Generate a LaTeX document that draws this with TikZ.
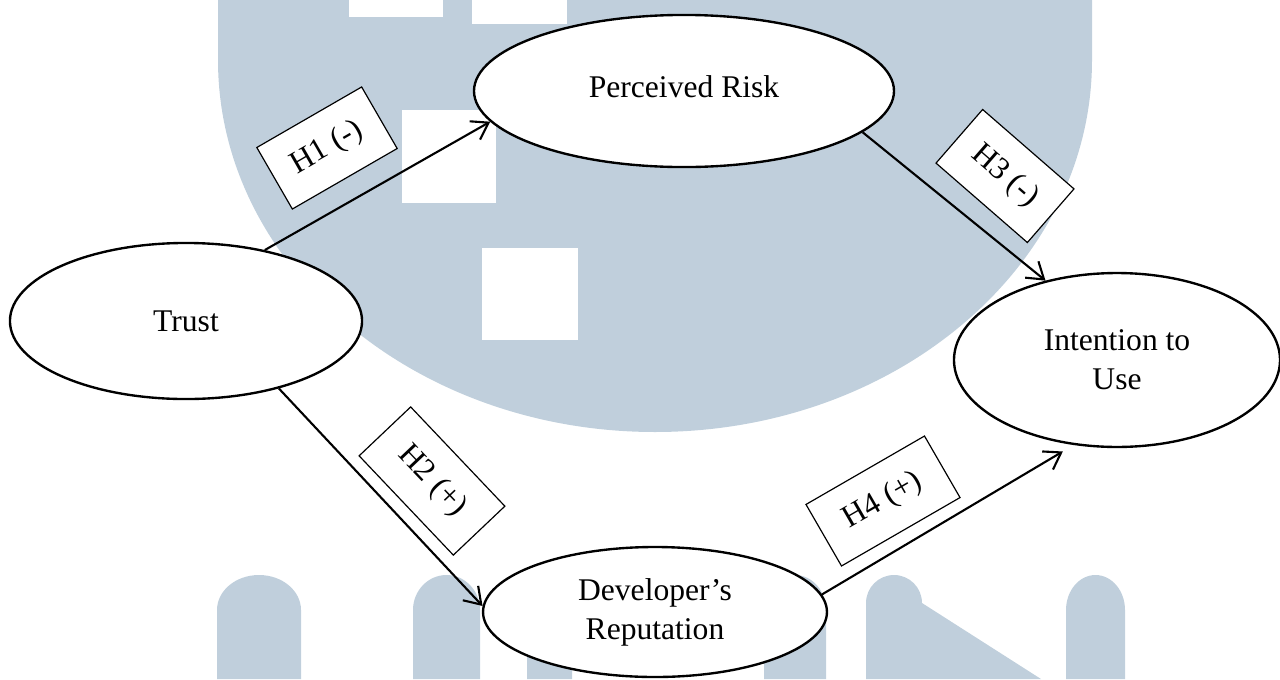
\documentclass[tikz,border=0pt]{standalone}
\usepackage{fontspec}
\setmainfont{Liberation Serif}
\usetikzlibrary{arrows.meta,shapes.geometric}
\definecolor{wmblue}{RGB}{192,207,220}
\tikzset{
    construct/.style={ellipse, draw, line width=0.9pt, fill=white, inner sep=0pt, align=center},
    hypo/.style={draw, line width=0.45pt, fill=white, minimum width=46pt, minimum height=27pt},
    link/.style={-{Straight Barb[length=6pt,width=8pt]}, line width=0.8pt}
}
\begin{document}
\begin{tikzpicture}[x=0.38pt,y=-0.38pt,font=\fontsize{12}{14.8}\selectfont]
    \useasboundingbox (0,0) rectangle (1280,679);
    %draw watermark
    \fill[wmblue] (218,0) -- (218,60) arc[start angle=180,end angle=0,x radius=437,y radius=372] -- (1092,0) -- cycle;
    \foreach \x/\y/\w/\h in {349/0/94/17, 472/0/95/24, 402/110/94/93, 482/248/96/92}
        {%
            \fill[white] (\x,\y) rectangle ++(\w,\h);
        }
    \foreach \x/\w in {217/84, 413/67, 527/45, 764/62, 1066/59}
        {%
            \fill[wmblue] (\x,679) -- (\x,610) arc[start angle=180,end angle=360,x radius=\w/2,y radius=35] -- (\x+\w,679) -- cycle;
        }
    \fill[wmblue] (866,679) -- (866,603) arc[start angle=180,end angle=360,x radius=28,y radius=28] -- (1041,679) -- cycle;
    %draw constructs
    \node[construct, minimum width=133.8pt, minimum height=59.3pt] (trust) at (186,321) {Trust};
    \node[construct, minimum width=159.6pt, minimum height=57.8pt] (risk) at (684,91) {\raisebox{3.4pt}{Perceived Risk}};
    \node[construct, minimum width=123.9pt, minimum height=66.1pt] (intent) at (1117,360) {Intention to\\Use};
    \node[construct, minimum width=130.7pt, minimum height=49.4pt] (dev) at (655,612) {Developer’s\\Reputation};
    %draw hypotheses
    \draw[link] (trust.42) -- (risk.189);
    \draw[link] (risk.347) -- (intent.132);
    \draw[link] (trust.324) -- (dev.178);
    \draw[link, shorten >=4.8pt] (dev.6) -- (intent.243);
    \node[hypo, rotate=30] (h1) at (327,148) {H1 (-)};
    \node[hypo, rotate=-41] (h3) at (1005,176) {H3 (-)};
    \node[hypo, rotate=-46.5, minimum width=52pt] (h2) at (432,481) {H2 (+)};
    \node[hypo, rotate=30, minimum width=52pt] (h4) at (883,501) {H4 (+)};
\end{tikzpicture}
\end{document}
